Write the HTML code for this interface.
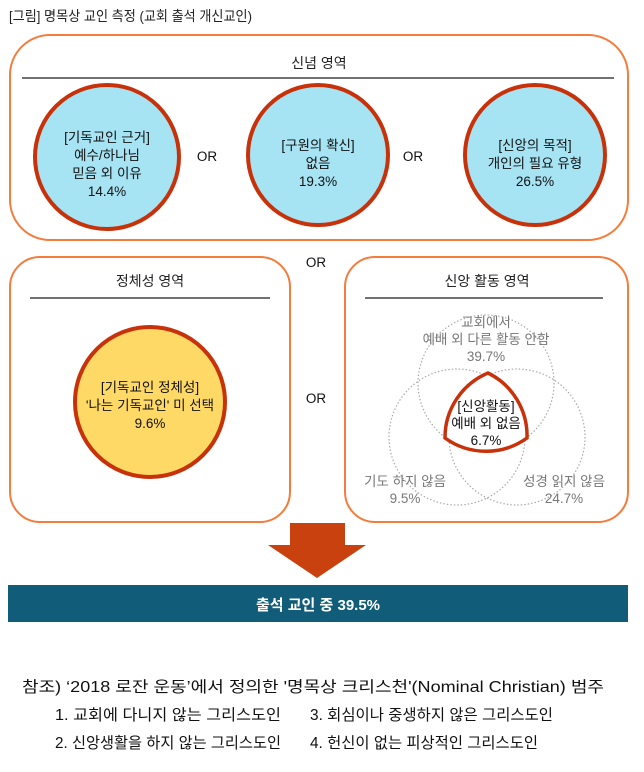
<!DOCTYPE html>
<html><head><meta charset="utf-8"><style>
body{margin:0;background:#fff;width:644px;height:772px;overflow:hidden}
svg{display:block}
text{font-family:"Liberation Sans","Noto Sans CJK KR",sans-serif}
</style></head><body>
<svg width="644" height="772" viewBox="0 0 644 772">
<text x="9" y="21" font-size="14" fill="#222" textLength="243" lengthAdjust="spacingAndGlyphs">[그림] 명목상 교인 측정 (교회 출석 개신교인)</text>
<rect x="10" y="35" width="618" height="205" rx="40" fill="none" stroke="#f47c3c" stroke-width="2"/>
<text x="319" y="68" font-size="14" text-anchor="middle" fill="#222">신념 영역</text>
<line x1="22" y1="78" x2="614" y2="78" stroke="#444" stroke-width="1.5"/>
<g stroke="#c8320a" stroke-width="4" fill="#a6e3f3">
<circle cx="107" cy="157" r="72"/><circle cx="318" cy="155" r="70"/><circle cx="535" cy="155" r="70"/>
</g>
<g font-size="13.5" text-anchor="middle" fill="#111">
<text x="107" y="142">[기독교인 근거]</text><text x="107" y="160">예수/하나님</text><text x="107" y="178">믿음 외 이유</text><text x="107" y="196">14.4%</text>
<text x="318" y="150">[구원의 확신]</text><text x="318" y="168">없음</text><text x="318" y="186">19.3%</text>
<text x="535" y="150">[신앙의 목적]</text><text x="535" y="168">개인의 필요 유형</text><text x="535" y="186">26.5%</text>
<text x="207" y="161">OR</text><text x="413" y="161">OR</text>
<text x="316" y="267">OR</text><text x="316" y="403">OR</text>
</g>
<rect x="10" y="257" width="280" height="265" rx="30" fill="none" stroke="#f47c3c" stroke-width="2"/>
<text x="150" y="286" font-size="14" text-anchor="middle" fill="#222">정체성 영역</text>
<line x1="30" y1="298" x2="270" y2="298" stroke="#444" stroke-width="1.5"/>
<circle cx="150" cy="402" r="75" fill="#ffd966" stroke="#c8320a" stroke-width="4"/>
<g font-size="13.5" text-anchor="middle" fill="#111">
<text x="150" y="392">[기독교인 정체성]</text><text x="150" y="410">'나는 기독교인' 미 선택</text><text x="150" y="428">9.6%</text>
</g>
<rect x="345" y="257" width="283" height="265" rx="30" fill="none" stroke="#f47c3c" stroke-width="2"/>
<text x="487" y="286" font-size="14" text-anchor="middle" fill="#222">신앙 활동 영역</text>
<line x1="365" y1="298" x2="603" y2="298" stroke="#444" stroke-width="1.5"/>
<g fill="none" stroke="#aaa" stroke-width="1.2" stroke-dasharray="1.5,2">
<circle cx="486" cy="383" r="68"/><circle cx="457" cy="437" r="68"/><circle cx="517" cy="437" r="68"/>
</g>
<path d="M488 373 A70 70 0 0 0 445 438 A70 70 0 0 0 527 438 A70 70 0 0 0 488 373 Z" fill="#fff" stroke="#c8320a" stroke-width="3.5"/>
<g font-size="13.5" text-anchor="middle" fill="#777">
<text x="486" y="327">교회에서</text><text x="486" y="344">예배 외 다른 활동 안함</text><text x="486" y="361">39.7%</text>
<text x="405" y="486">기도 하지 않음</text><text x="405" y="503">9.5%</text>
<text x="564" y="486">성경 읽지 않음</text><text x="564" y="503">24.7%</text>
</g>
<g font-size="13.5" text-anchor="middle" fill="#111">
<text x="486" y="411">[신앙활동]</text><text x="486" y="428">예배 외 없음</text><text x="486" y="445">6.7%</text>
</g>
<path d="M290 523 H345 V545 H366 L317 578 L268 545 H290 Z" fill="#c8410e"/>
<rect x="8" y="585" width="620" height="37" fill="#115c78"/>
<text x="318" y="610" font-size="15" font-weight="bold" text-anchor="middle" fill="#fff">출석 교인 중 39.5%</text>
<g font-size="15.5" fill="#111" lengthAdjust="spacingAndGlyphs">
<text x="22" y="692" textLength="582" lengthAdjust="spacingAndGlyphs">참조) ‘2018 로잔 운동’에서 정의한 '명목상 크리스천'(Nominal Christian) 범주</text>
<text x="55" y="720" textLength="226" lengthAdjust="spacingAndGlyphs">1. 교회에 다니지 않는 그리스도인</text>
<text x="310" y="720" textLength="243" lengthAdjust="spacingAndGlyphs">3. 회심이나 중생하지 않은 그리스도인</text>
<text x="55" y="748" textLength="226" lengthAdjust="spacingAndGlyphs">2. 신앙생활을 하지 않는 그리스도인</text>
<text x="310" y="748" textLength="228" lengthAdjust="spacingAndGlyphs">4. 헌신이 없는 피상적인 그리스도인</text>
</g>
</svg>
</body></html>
